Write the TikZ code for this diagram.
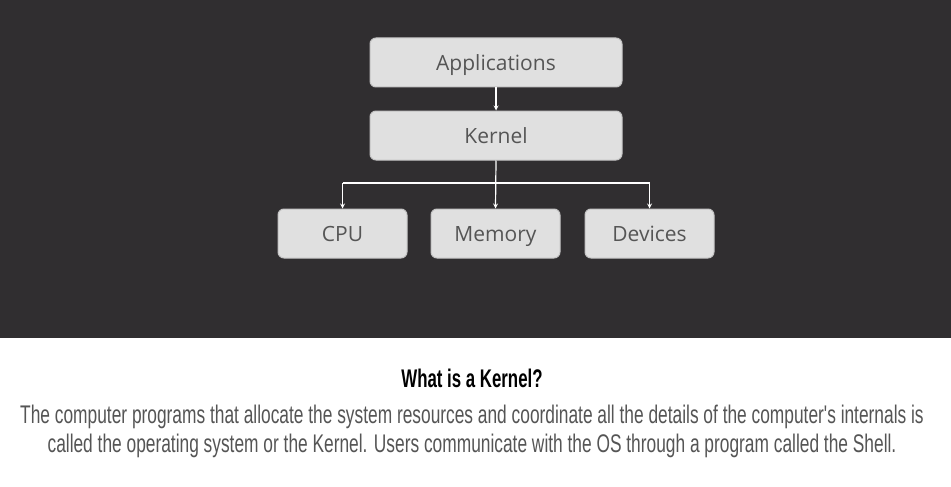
\documentclass[tikz,border=0pt]{standalone}
\usepackage{fontspec}
\usepackage{xcolor}
\setmainfont{Open Sans}
\newfontfamily\capfont[FakeStretch=0.68]{Liberation Sans}
\newfontfamily\headfont[FakeStretch=0.66]{Liberation Sans}
\definecolor{slate}{HTML}{302E30}
\definecolor{boxfill}{HTML}{E0E0E0}
\definecolor{boxline}{HTML}{C4C4C4}
\definecolor{inktext}{HTML}{555555}
\begin{document}
\begin{tikzpicture}[x=1pt,y=1pt,
  layer/.style={draw=boxline,fill=boxfill,rounded corners=6pt,line width=1pt,
    minimum width=252pt,minimum height=49pt,inner sep=0pt,
    text height=18pt,text depth=2pt,
    text=inktext,font=\fontsize{21}{24}\selectfont},
  part/.style={layer,minimum width=129pt},
  link/.style={-stealth,white,line width=1.2pt}]
  \fill[slate] (0,0) rectangle (951,-338);
  \fill[white] (0,-338) rectangle (951,-487);
  \useasboundingbox (0,0) rectangle (951,-487);
  \node[layer] (apps) at (496,-62.5) {Applications};
  \node[layer] (kern) at (496,-135.5) {Kernel};
  \node[part] (cpu) at (342.5,-233.5) {CPU};
  \node[part] (mem) at (495.5,-233.5) {Memory};
  \node[part] (dev) at (649.5,-233.5) {Devices};
  \coordinate (forkl) at (342.5,-183);
  \coordinate (forkr) at (649.5,-183);
  \draw[link] (apps.south) -- (kern.north);
  \draw[link] (kern.south) -- (mem.north);
  \draw[white,line width=1.2pt] (forkl) -- (forkr);
  \draw[link] (forkl) -- (cpu.north);
  \draw[link] (forkr) -- (dev.north);
  \node (title) at (472,-378) {\headfont\bfseries\fontsize{25.5}{28}\selectfont What is a Kernel?};
  \node[text=inktext,align=center,font=\capfont\fontsize{25.5}{29}\selectfont] (body) at (472,-431)
    {The computer programs that allocate the system resources and coordinate all the details of the computer's internals is\\
    called the operating system or the Kernel. Users communicate with the OS through a program called the Shell.};
\end{tikzpicture}
\end{document}
